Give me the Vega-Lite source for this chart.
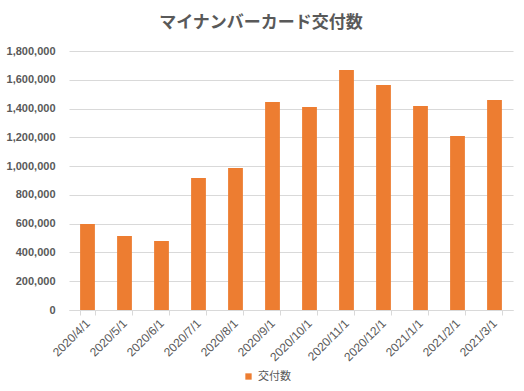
{
  "$schema": "https://vega.github.io/schema/vega-lite/v6.json",
  "width": 444,
  "height": 259,
  "autosize": {"type": "none"},
  "padding": {"left": 69, "top": 51, "right": 11, "bottom": 81},
  "background": "white",
  "title": {
    "text": "マイナンバーカード交付数",
    "anchor": "middle",
    "dx": -30,
    "offset": 13,
    "font": "Noto Sans CJK JP",
    "fontSize": 17,
    "fontWeight": "bold",
    "color": "#595959"
  },
  "data": {
    "values": [
      {"date": "2020/4/1", "value": 598000, "series": "交付数"},
      {"date": "2020/5/1", "value": 514000, "series": "交付数"},
      {"date": "2020/6/1", "value": 480000, "series": "交付数"},
      {"date": "2020/7/1", "value": 917000, "series": "交付数"},
      {"date": "2020/8/1", "value": 987000, "series": "交付数"},
      {"date": "2020/9/1", "value": 1445000, "series": "交付数"},
      {"date": "2020/10/1", "value": 1411000, "series": "交付数"},
      {"date": "2020/11/1", "value": 1668000, "series": "交付数"},
      {"date": "2020/12/1", "value": 1564000, "series": "交付数"},
      {"date": "2021/1/1", "value": 1418000, "series": "交付数"},
      {"date": "2021/2/1", "value": 1209000, "series": "交付数"},
      {"date": "2021/3/1", "value": 1459000, "series": "交付数"}
    ]
  },
  "mark": {"type": "bar"},
  "encoding": {
    "x": {
      "field": "date",
      "type": "nominal",
      "sort": null,
      "scale": {"paddingInner": 0.6, "paddingOuter": 0.3},
      "axis": {
        "title": null,
        "labelAngle": -45,
        "labelAlign": "right",
        "labelBaseline": "middle",
        "labelFont": "Liberation Sans",
        "labelFontSize": 12,
        "labelColor": "#595959",
        "tickBand": "extent",
        "tickColor": "#d9d9d9",
        "tickSize": 5,
        "domainColor": "#d9d9d9",
        "labelPadding": 6
      }
    },
    "y": {
      "field": "value",
      "type": "quantitative",
      "scale": {"domain": [0, 1800000], "nice": false},
      "axis": {
        "title": null,
        "values": [0, 200000, 400000, 600000, 800000, 1000000, 1200000, 1400000, 1600000, 1800000],
        "format": ",d",
        "domain": false,
        "ticks": false,
        "gridColor": "#d9d9d9",
        "labelFont": "Liberation Sans",
        "labelFontSize": 11,
        "labelFontWeight": "bold",
        "labelColor": "#595959",
        "labelPadding": 14
      }
    },
    "color": {
      "field": "series",
      "type": "nominal",
      "scale": {"range": ["#ED7D31"]},
      "legend": {
        "title": null,
        "orient": "none",
        "legendX": 174,
        "legendY": 320,
        "symbolType": "square",
        "symbolSize": 40,
        "labelFont": "Noto Sans CJK JP",
        "labelFontSize": 11,
        "labelColor": "#595959"
      }
    }
  },
  "config": {
    "view": {"stroke": null}
  }
}
